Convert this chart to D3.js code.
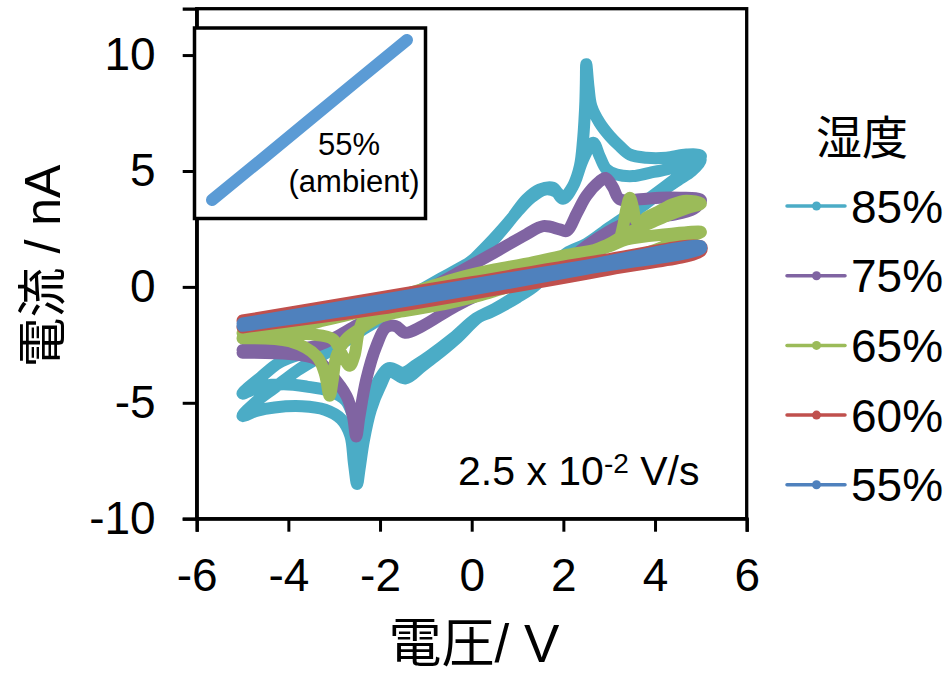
<!DOCTYPE html>
<html>
<head>
<meta charset="utf-8">
<script src="https://cdn.jsdelivr.net/npm/d3@7/dist/d3.min.js"></script>
<style>
  html, body { margin: 0; padding: 0; background: #fff; }
  svg { display: block; }
  text { font-family: "Liberation Sans", Arial, "Noto Sans CJK JP", sans-serif; fill: #000; }
</style>
</head>
<body>
<svg id="chart" width="949" height="677"></svg>
<script>
// Humidity levels (legend order) and series colours
const humidity = ["85%", "75%", "65%", "60%", "55%"];
const colors = ["#4bacc6", "#8064a2", "#9bbb59", "#c0504d", "#4f81bd"];

// Cyclic voltammograms: [voltage (V), current (nA)]
const cv85 = [
  [0.0, 1.1], [0.47, 2.05], [0.85, 2.9], [1.19, 3.77], [1.48, 4.2], [1.77, 4.28], [1.99, 3.8],
  [2.21, 4.35], [2.36, 5.21], [2.43, 6.36], [2.46, 7.2], [2.48, 8.0], [2.49, 8.8], [2.5, 9.6],
  [2.55, 8.6], [2.61, 7.8], [2.79, 7.08], [3.01, 6.51], [3.23, 6.07], [3.45, 5.71], [3.81, 5.57],
  [4.25, 5.57], [4.68, 5.71], [5.0, 5.65],
  [4.8, 5.2], [4.5, 4.75], [4.2, 4.3], [3.8, 3.7], [3.4, 3.1], [3.0, 2.55], [2.5, 1.85], [2.07, 1.45],
  [1.63, 0.65], [1.41, 0.1], [1.0, -0.45], [0.39, -1.11], [0.16, -1.3], [-0.35, -2.26], [-0.8, -3.0],
  [-1.08, -3.42], [-1.45, -3.95], [-1.8, -3.65], [-2.0, -4.3], [-2.2, -5.3], [-2.35, -6.6],
  [-2.45, -7.9], [-2.5, -8.5], [-2.57, -7.6], [-2.65, -6.4], [-2.85, -5.7], [-3.2, -5.3],
  [-3.7, -5.15], [-4.3, -5.2], [-4.7, -5.35], [-5.0, -5.57],
  [-4.7, -4.95], [-4.3, -4.35], [-3.8, -3.6], [-3.3, -3.0], [-2.8, -2.4], [-2.3, -1.75], [-1.8, -1.15],
  [-1.3, -0.5], [-0.8, 0.05], [-0.26, 0.75], [0.2, 1.45], [0.6, 2.3], [1.0, 3.25], [1.3, 3.85],
  [1.6, 4.2], [1.85, 4.1], [2.0, 3.85], [2.21, 4.35], [2.43, 5.5], [2.65, 6.22], [2.79, 5.64],
  [2.94, 5.07], [3.16, 4.85], [3.52, 4.78], [3.88, 4.92], [4.25, 5.07], [4.68, 5.28], [5.0, 5.45],
  [4.8, 5.0], [4.5, 4.6], [4.1, 4.05], [3.7, 3.45], [3.3, 2.9], [2.9, 2.35], [2.5, 1.75], [2.1, 1.3],
  [1.7, 0.75], [1.4, 0.2], [1.0, -0.35], [0.5, -0.95], [0.1, -1.35], [-0.4, -2.2], [-0.9, -2.95],
  [-1.2, -3.35], [-1.5, -3.7], [-1.8, -3.5], [-2.05, -4.1], [-2.25, -4.9], [-2.4, -5.8],
  [-2.48, -6.2], [-2.58, -5.6], [-2.75, -4.9], [-3.1, -4.5], [-3.6, -4.3], [-4.1, -4.2],
  [-4.6, -4.3], [-5.0, -4.6],
  [-4.6, -3.9], [-4.2, -3.27], [-3.75, -2.9], [-3.1, -2.4], [-2.7, -2.0], [-2.1, -1.25],
  [-1.6, -0.65], [-1.0, 0.0], [-0.5, 0.55], [0.0, 1.1]
];

const cv75 = [
  [-5.0, -2.72], [-4.5, -2.72], [-4.0, -2.68], [-3.4, -2.55], [-3.0, -2.2], [-2.5, -1.65],
  [-2.0, -1.15], [-1.5, -0.65], [-1.0, -0.15], [-0.26, 0.65], [0.47, 1.45], [1.19, 2.26],
  [1.56, 2.62], [1.92, 2.48], [2.07, 2.41], [2.3, 3.2], [2.5, 3.92], [2.79, 4.55], [2.92, 4.7],
  [3.08, 4.3], [3.23, 3.78], [3.67, 3.78], [4.1, 3.85], [4.54, 3.85], [5.0, 3.75],
  [4.83, 3.35], [4.3, 3.08], [3.81, 2.91], [3.3, 2.7], [3.0, 2.4], [2.5, 1.76], [1.92, 0.85],
  [1.5, 0.5], [1.0, 0.15], [0.39, -0.15], [-0.35, -0.83], [-1.08, -1.69], [-1.45, -1.98],
  [-1.66, -1.69], [-1.87, -1.75], [-2.08, -2.55], [-2.3, -3.99], [-2.45, -5.6], [-2.52, -6.45],
  [-2.59, -5.6], [-2.73, -4.71], [-3.1, -3.7], [-3.39, -3.12], [-3.97, -2.9], [-5.0, -2.84]
];

const cv65 = [
  [-5.0, -2.22], [-4.5, -2.05], [-4.0, -1.85], [-3.5, -1.6], [-3.0, -1.3], [-2.5, -0.95],
  [-2.0, -0.65], [-1.5, -0.35], [-1.0, -0.05], [-0.26, 0.4], [0.5, 0.75], [1.19, 1.0],
  [2.0, 1.35], [2.94, 1.71], [3.2, 2.0], [3.3, 2.6], [3.38, 3.42], [3.45, 3.85], [3.52, 3.42],
  [3.59, 2.85], [3.7, 2.8], [3.81, 2.99], [4.1, 3.28], [4.39, 3.57], [4.68, 3.72], [5.0, 3.6],
  [4.7, 3.4], [4.3, 3.1], [3.95, 2.8], [3.65, 2.55], [3.3, 2.2], [3.0, 1.85], [2.5, 1.45],
  [2.0, 1.05], [1.5, 0.65], [1.0, 0.25], [0.39, -0.25], [-0.5, -0.7], [-1.5, -1.05],
  [-2.3, -1.26], [-2.45, -1.83], [-2.56, -2.98], [-2.66, -3.4], [-2.81, -2.98], [-3.03, -2.25],
  [-3.5, -2.05], [-4.2, -2.0], [-5.0, -2.0],
  [-4.0, -1.75], [-3.0, -1.35], [-2.0, -0.85], [-1.0, -0.3], [0.0, 0.3], [1.0, 0.75],
  [2.0, 1.2], [3.0, 1.75], [3.38, 2.05], [4.25, 2.27], [5.0, 2.37],
  [4.5, 2.0], [4.0, 1.6], [3.0, 0.95], [2.0, 0.5], [1.0, 0.1], [0.39, -0.25], [-0.5, -0.7],
  [-1.5, -1.05], [-2.0, -1.3], [-2.45, -1.83], [-2.74, -2.26], [-2.95, -2.98], [-3.03, -3.99],
  [-3.1, -4.7], [-3.21, -3.7], [-3.39, -2.98], [-3.97, -2.35], [-5.0, -2.22]
];

const cv60 = [
  [-5.0, -1.45], [-2.0, -0.45], [0.0, 0.2], [3.0, 1.2], [5.0, 1.75],
  [5.0, 1.55], [3.0, 0.75], [0.0, -0.3], [-2.0, -0.95], [-5.0, -1.75]
];

const cv55 = [
  [-5.0, -1.58], [-2.5, -0.75], [0.0, 0.1], [2.5, 0.92], [5.0, 1.75],
  [5.0, 1.65], [2.5, 0.78], [0.0, -0.12], [-2.5, -0.95], [-5.0, -1.68]
];

const seriesData = [cv85, cv75, cv65, cv60, cv55];

// Inset: 55% under ambient conditions
const insetV = [-5, -2.5, 0, 2.5, 5];
const insetI = [-1.75, -0.88, 0.0, 0.88, 1.75];

// Axis ticks
const xTicks = [-6, -4, -2, 0, 2, 4, 6];
const yTicks = [-10, -5, 0, 5, 10];

const svg = d3.select("#chart");

const plot = { left: 196.7, right: 746.7, top: 8.7, bottom: 518.7 };
const x = d3.scaleLinear().domain([-6, 6]).range([plot.left, plot.right]);
const y = d3.scaleLinear().domain([-10, 12]).range([plot.bottom, plot.top]);

const line = d3.line()
  .x(d => x(d[0]))
  .y(d => y(d[1]))
  .curve(d3.curveCatmullRom.alpha(0.5));

// Data traces (first series at the bottom, last on top)
const traces = svg.append("g");
seriesData.forEach((data, i) => {
  traces.append("path")
    .attr("d", line(data))
    .attr("fill", "none")
    .attr("stroke", colors[i])
    .attr("stroke-width", 12)
    .attr("stroke-linejoin", "round")
    .attr("stroke-linecap", "round");
});

// Plot frame
svg.append("rect")
  .attr("x", plot.left).attr("y", y(12))
  .attr("width", plot.right - plot.left)
  .attr("height", plot.bottom - y(12))
  .attr("fill", "none").attr("stroke", "#000").attr("stroke-width", 3.3);

// Axes
const fmt = d => String(d);
const yAxis = svg.append("g")
  .attr("transform", `translate(${plot.left},0)`)
  .call(d3.axisLeft(y).tickValues(yTicks).tickFormat(fmt).tickSize(14).tickPadding(27));
const xAxis = svg.append("g")
  .attr("transform", `translate(0,${plot.bottom})`)
  .call(d3.axisBottom(x).tickValues(xTicks).tickFormat(fmt).tickSize(13).tickPadding(27));
[yAxis, xAxis].forEach(g => {
  g.select(".domain").attr("stroke", "#000").attr("stroke-width", 3.3);
  g.selectAll(".tick line").attr("stroke", "#000").attr("stroke-width", 3);
  g.selectAll(".tick text")
    .attr("font-size", 46)
    .attr("font-family", "'Liberation Sans', Arial, sans-serif")
    .attr("fill", "#000");
});

// Axis titles
svg.append("text")
  .attr("x", 474).attr("y", 662)
  .attr("text-anchor", "middle")
  .attr("font-size", 53)
  .text("電圧/ V");
svg.append("text")
  .attr("transform", "translate(60,266) rotate(-90)")
  .attr("text-anchor", "middle")
  .attr("font-size", 50)
  .text("電流 / nA");

// Scan-rate annotation
const note = svg.append("text")
  .attr("x", 458).attr("y", 485)
  .attr("font-size", 41);
note.append("tspan").text("2.5 x 10");
note.append("tspan").attr("dy", -12).attr("font-size", 28).text("-2");
note.append("tspan").attr("dy", 12).text(" V/s");

// Inset panel
const inset = { left: 194.5, top: 28, right: 425.5, bottom: 218.5 };
svg.append("rect")
  .attr("x", inset.left).attr("y", inset.top)
  .attr("width", inset.right - inset.left)
  .attr("height", inset.bottom - inset.top)
  .attr("fill", "#fff").attr("stroke", "#000").attr("stroke-width", 3.5);
const ix = d3.scaleLinear().domain([-5, 5]).range([212, 407]);
const iy = d3.scaleLinear().domain([-1.75, 1.75]).range([200, 40]);
svg.append("path")
  .attr("d", d3.line().x((d, k) => ix(insetV[k])).y((d, k) => iy(insetI[k]))(insetV))
  .attr("fill", "none")
  .attr("stroke", "#5b9bd5")
  .attr("stroke-width", 12)
  .attr("stroke-linecap", "round");
svg.append("text")
  .attr("x", 349).attr("y", 155)
  .attr("text-anchor", "middle").attr("font-size", 31)
  .text("55%");
svg.append("text")
  .attr("x", 354).attr("y", 192)
  .attr("text-anchor", "middle").attr("font-size", 31)
  .text("(ambient)");

// Legend
const legend = svg.append("g");
legend.append("text")
  .attr("x", 862).attr("y", 154)
  .attr("text-anchor", "middle")
  .attr("font-size", 46)
  .text("湿度");
humidity.forEach((label, i) => {
  const cy = 206 + i * 69.7;
  legend.append("line")
    .attr("x1", 787).attr("x2", 845).attr("y1", cy).attr("y2", cy)
    .attr("stroke", colors[i]).attr("stroke-width", 3.5).attr("stroke-linecap", "round");
  legend.append("circle")
    .attr("cx", 816.5).attr("cy", cy).attr("r", 4.5)
    .attr("fill", colors[i]);
  legend.append("text")
    .attr("x", 851).attr("y", cy + 16.5)
    .attr("font-size", 46)
    .text(label);
});
</script>
</body>
</html>
